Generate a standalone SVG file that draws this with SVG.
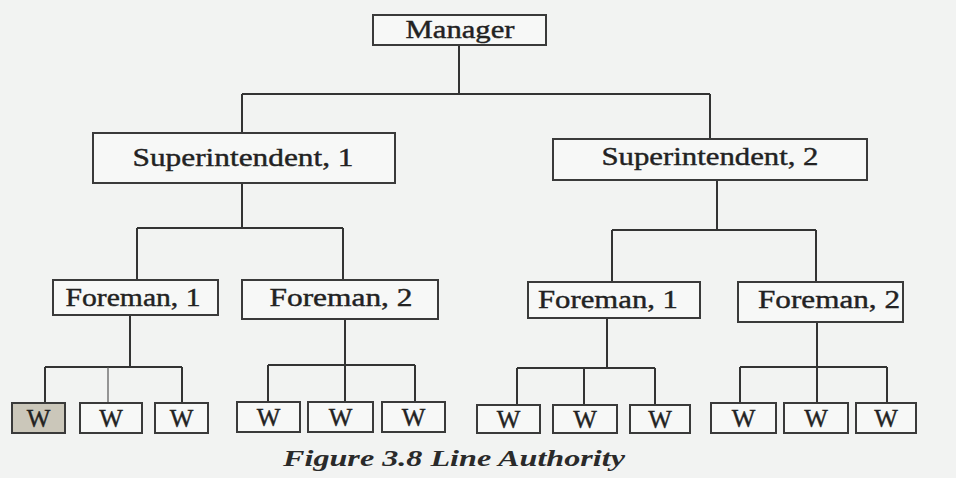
<svg xmlns="http://www.w3.org/2000/svg" width="956" height="478" viewBox="0 0 956 478">
<style>
.box{fill:#f7f8f7;stroke:#3a3a3a;stroke-width:2}
.lbl{font-family:"Liberation Serif","Times New Roman",serif;font-size:25px;fill:#222;stroke:#222;stroke-width:0.4;text-anchor:middle}
.w{font-family:"Liberation Serif","Times New Roman",serif;font-size:25px;fill:#222;stroke:#222;stroke-width:0.4;text-anchor:middle}
.ln{stroke:#333;stroke-width:2;fill:none}
.thin{stroke:#555;stroke-width:1.2;fill:none}
.cap{font-family:"Liberation Serif","Times New Roman",serif;font-size:23px;font-weight:bold;font-style:italic;fill:#2a2a2a}
</style>
<rect x="0" y="0" width="956" height="478" fill="#f2f3f2"/>
<g id="connectors">
<path class="ln" d="M459 45V94M242 94H710M242 94V133M710 94V139"/>
<path class="ln" d="M242 183V228M137 228H343M137 228V280M343 228V280"/>
<path class="ln" d="M717 180V230M612 230H816M612 230V282M816 230V282"/>
<path class="ln" d="M130 315V367M45 367H182M45 367V403M182 367V403"/>
<path class="thin" d="M108 367V403"/>
<path class="ln" d="M345 319V402M268 365H415M268 365V402M415 365V402"/>
<path class="ln" d="M607 318V368M517 368H655M517 368V405M584 368V405M655 368V405"/>
<path class="ln" d="M817 322V403M740 367H887M740 367V403M887 367V403"/>
</g>
<g id="manager"><rect class="box" x="373" y="15" width="173" height="30"/><text class="lbl" x="460" y="38" textLength="109" lengthAdjust="spacingAndGlyphs">Manager</text></g>
<g id="sup1"><rect class="box" x="93" y="133" width="302" height="50"/><text class="lbl" x="243" y="166" textLength="221" lengthAdjust="spacingAndGlyphs">Superintendent, 1</text></g>
<g id="sup2"><rect class="box" x="553" y="139" width="314" height="41"/><text class="lbl" x="710" y="165" textLength="217" lengthAdjust="spacingAndGlyphs">Superintendent, 2</text></g>
<g id="f1l"><rect class="box" x="53" y="280" width="165" height="35"/><text class="lbl" x="133" y="306" textLength="135" lengthAdjust="spacingAndGlyphs">Foreman, 1</text></g>
<g id="f2l"><rect class="box" x="242" y="280" width="196" height="39"/><text class="lbl" x="341" y="306" textLength="143" lengthAdjust="spacingAndGlyphs">Foreman, 2</text></g>
<g id="f1r"><rect class="box" x="528" y="282" width="172" height="36"/><text class="lbl" x="608" y="308" textLength="140" lengthAdjust="spacingAndGlyphs">Foreman, 1</text></g>
<g id="f2r"><rect class="box" x="738" y="282" width="165" height="40"/><text class="lbl" x="829" y="308" textLength="142" lengthAdjust="spacingAndGlyphs">Foreman, 2</text></g>
<g id="w1"><rect class="box" x="12" y="403" width="53" height="30" style="fill:#cbc7ba"/><text class="w" x="38.5" y="427">W</text></g>
<g id="w2"><rect class="box" x="80" y="403" width="62" height="30"/><text class="w" x="111" y="427">W</text></g>
<g id="w3"><rect class="box" x="155" y="403" width="53" height="30"/><text class="w" x="181.5" y="427">W</text></g>
<g id="w4"><rect class="box" x="237" y="402" width="63" height="30"/><text class="w" x="268.5" y="426">W</text></g>
<g id="w5"><rect class="box" x="308" y="402" width="65" height="30"/><text class="w" x="340.5" y="426">W</text></g>
<g id="w6"><rect class="box" x="382" y="402" width="63" height="30"/><text class="w" x="413.5" y="426">W</text></g>
<g id="w7"><rect class="box" x="477" y="405" width="63" height="28"/><text class="w" x="508.5" y="428">W</text></g>
<g id="w8"><rect class="box" x="553" y="405" width="64" height="28"/><text class="w" x="585" y="428">W</text></g>
<g id="w9"><rect class="box" x="630" y="405" width="60" height="28"/><text class="w" x="660" y="428">W</text></g>
<g id="w10"><rect class="box" x="711" y="403" width="65" height="30"/><text class="w" x="743.5" y="427">W</text></g>
<g id="w11"><rect class="box" x="784" y="403" width="64" height="30"/><text class="w" x="816" y="427">W</text></g>
<g id="w12"><rect class="box" x="856" y="403" width="60" height="30"/><text class="w" x="886" y="427">W</text></g>
<text class="cap" x="283" y="466" textLength="342" lengthAdjust="spacingAndGlyphs">Figure 3.8 Line Authority</text>
</svg>
